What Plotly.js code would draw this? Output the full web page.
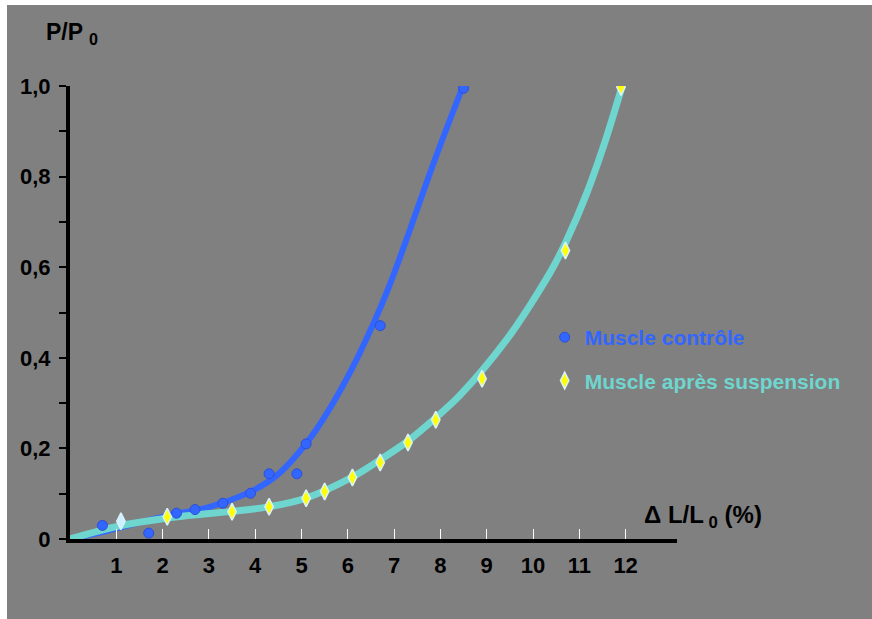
<!DOCTYPE html>
<html>
<head>
<meta charset="utf-8">
<script src="https://cdn.plot.ly/plotly-3.0.1.min.js"></script>
<style>
  html, body { margin: 0; padding: 0; background: #ffffff; }
  #chart { position: absolute; left: 7px; top: 5px; width: 865px; height: 614px; }
</style>
</head>
<body>
<div id="chart"></div>
<script>
// Measured points: control muscle
const ctrlX = [0.7, 1.7, 2.3, 2.7, 3.3, 3.9, 4.3, 4.9, 5.1, 6.7, 8.5];
const ctrlY = [0.030, 0.013, 0.057, 0.065, 0.079, 0.101, 0.144, 0.144, 0.210, 0.471, 0.995];
// Fitted curve: control muscle
const ctrlCurveX = [0, 0.72, 2.08, 3.02, 3.99, 4.53, 5.11, 5.55, 6.06, 6.59, 6.92, 7.35, 7.85, 8.45];
const ctrlCurveY = [0, 0.016, 0.051, 0.071, 0.109, 0.146, 0.212, 0.278, 0.370, 0.484, 0.565, 0.685, 0.829, 0.990];
// Measured points: muscle after suspension
const suspX = [1.1, 2.1, 3.5, 4.3, 5.1, 5.5, 6.1, 6.7, 7.3, 7.9, 8.9, 10.7, 11.9];
const suspY = [0.039, 0.049, 0.060, 0.071, 0.090, 0.105, 0.136, 0.169, 0.213, 0.263, 0.354, 0.637, 0.998];
// Fitted curve: muscle after suspension
const suspCurveX = [0, 1.07, 2.08, 3.48, 4.29, 5.09, 6.12, 6.70, 7.28, 7.89, 8.43, 9.43, 10.01, 10.44, 10.73, 11.16, 11.52, 11.92];
const suspCurveY = [0, 0.029, 0.046, 0.061, 0.071, 0.090, 0.138, 0.175, 0.215, 0.267, 0.318, 0.440, 0.528, 0.601, 0.660, 0.763, 0.866, 0.998];

const xTicks = [1, 2, 3, 4, 5, 6, 7, 8, 9, 10, 11, 12];
const xTickText = ["1", "2", "3", "4", "5", "6", "7", "8", "9", "10", "11", "12"];
const yTicks = [0, 0.2, 0.4, 0.6, 0.8, 1.0];
const yTickText = ["0", "0,2", "0,4", "0,6", "0,8", "1,0"];
const yMinorTicks = [0.1, 0.3, 0.5, 0.7, 0.9];

const seriesNames = ["Muscle contrôle", "Muscle après suspension"];

const BLUE = "#3366ff";
const CYAN = "#6fd6cf";
const FONT = "Liberation Sans, Arial, sans-serif";

const diamondOutline = { color: "#d8f2fa", width: 1.5 };

const traces = [
  {
    x: ctrlCurveX, y: ctrlCurveY, mode: "lines", type: "scatter",
    line: { color: BLUE, width: 6, shape: "spline", smoothing: 1 },
    showlegend: false, hoverinfo: "skip"
  },
  {
    x: suspCurveX, y: suspCurveY, mode: "lines", type: "scatter",
    line: { color: CYAN, width: 7, shape: "spline", smoothing: 1 },
    showlegend: false, hoverinfo: "skip"
  },
  {
    x: ctrlX, y: ctrlY, mode: "markers", type: "scatter",
    name: '<span style="color:' + BLUE + '">' + seriesNames[0] + '</span>',
    legendgroup: "a",
    marker: { symbol: "circle", size: 10, color: BLUE, line: { color: "#2a4fd6", width: 1 } }
  },
  {
    // first point of this series is drawn pale in the original
    x: suspX.slice(0, 1), y: suspY.slice(0, 1), mode: "markers", type: "scatter",
    showlegend: false,
    marker: { symbol: "diamond-tall", size: 12, color: "#cfeeff", line: diamondOutline }
  },
  {
    x: suspX.slice(1), y: suspY.slice(1), mode: "markers", type: "scatter",
    name: '<span style="color:' + CYAN + '">' + seriesNames[1] + '</span>',
    legendgroup: "b",
    marker: { symbol: "diamond-tall", size: 12, color: "#ffff00", line: diamondOutline }
  }
];

const layout = {
  width: 865, height: 614,
  paper_bgcolor: "#808080", plot_bgcolor: "#808080",
  margin: { l: 63, r: 195, t: 81, b: 80 },
  font: { family: FONT, size: 20, color: "#000000", weight: "bold" },
  xaxis: {
    range: [0, 13.11], showgrid: false, zeroline: false,
    showline: true, linecolor: "#000000", linewidth: 4,
    ticks: "inside", ticklen: 10, tickwidth: 1, tickcolor: "#ffffff",
    tickvals: xTicks, ticktext: xTickText,
    tickfont: { family: FONT, size: 22, color: "#000000", weight: "bold" },
    ticklabelstandoff: 4
  },
  yaxis: {
    range: [0, 1], showgrid: false, zeroline: false,
    showline: true, linecolor: "#000000", linewidth: 4,
    ticks: "outside", ticklen: 7, tickwidth: 2, tickcolor: "#000000",
    tickvals: yTicks, ticktext: yTickText,
    tickfont: { family: FONT, size: 22, color: "#000000", weight: "bold" },
    ticklabelstandoff: 4,
    minor: { tickvals: yMinorTicks, ticks: "outside", ticklen: 7, tickwidth: 2, tickcolor: "#000000", showgrid: false }
  },
  showlegend: true,
  legend: {
    x: 0.782, y: 0.49, xanchor: "left", yanchor: "top",
    bgcolor: "rgba(0,0,0,0)", borderwidth: 0,
    font: { family: FONT, size: 21, weight: "bold" },
    tracegroupgap: 13, traceorder: "grouped"
  },
  annotations: [
    {
      xref: "paper", yref: "paper", x: -0.043, y: 1.115, xanchor: "left", yanchor: "middle",
      text: "P/P <sub>0</sub>", showarrow: false,
      font: { family: FONT, size: 23, color: "#000000", weight: "bold" }
    },
    {
      xref: "paper", yref: "paper", x: 0.943, y: 0.05, xanchor: "left", yanchor: "middle",
      text: "Δ L/L<sub> 0</sub> (%)", showarrow: false,
      font: { family: FONT, size: 24, color: "#000000", weight: "bold" }
    }
  ]
};

Plotly.newPlot("chart", traces, layout, { staticPlot: true, displayModeBar: false });
</script>
</body>
</html>
